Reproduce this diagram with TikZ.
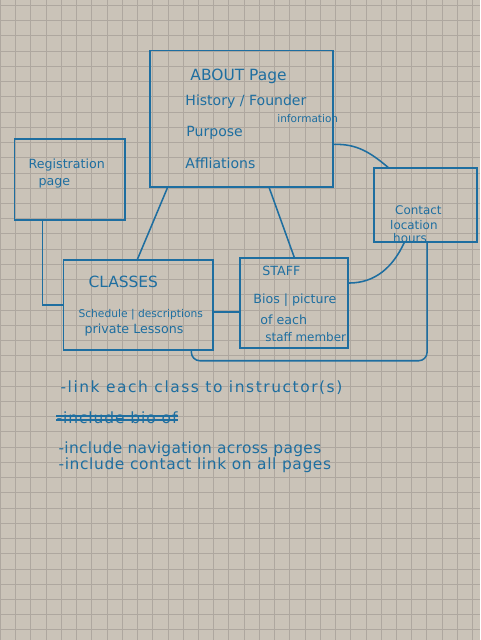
\documentclass[tikz,border=0pt]{standalone}
\usepackage{fontspec}
\setmainfont{DejaVu Sans}
\usetikzlibrary{positioning, calc}
\definecolor{ink}{RGB}{30,110,160}
\definecolor{paper}{RGB}{202,195,184}
\definecolor{gridline}{RGB}{174,167,159}

\begin{document}
\begin{tikzpicture}[
      x=0.025cm, y=-0.025cm,
      box/.style={rectangle, draw=ink, line width=1.1pt, inner sep=0pt},
      link/.style={draw=ink, line width=1.1pt},
      hand/.style={text=ink, anchor=west, inner sep=0pt, font=\fontsize{10}{12}\selectfont},
      note/.style={hand, font=\fontsize{11}{13}\selectfont\addfontfeatures{LetterSpace=#1}},
      note/.default=0
    ]
    % graph paper
    \fill[paper] (0,0) rectangle (480,640);
    \foreach \i in {0,...,31} \draw[gridline, line width=0.55pt] (\i*15.25,0) -- (\i*15.25,640);
    \foreach \j in {0,...,41} \draw[gridline, line width=0.55pt] (0,5+\j*15.25) -- (480,5+\j*15.25);
    \useasboundingbox (0,0) rectangle (480,640);

    % pages
    \node[box, minimum width=4.575cm, minimum height=3.425cm] (about) at (241.5,118.5) {};
    \node[box, minimum width=2.775cm, minimum height=2.025cm] (regpage) at (69.5,179.5) {};
    \node[box, minimum width=2.575cm, minimum height=1.85cm] (contact) at (425.5,205) {};
    \node[box, minimum width=3.75cm, minimum height=2.25cm] (classes) at (138,305) {};
    \node[box, minimum width=2.7cm, minimum height=2.25cm] (staff) at (294,303) {};

    % page contents
    \node[hand, font=\fontsize{11}{13}\selectfont] (abouttitle) at (190,76) {ABOUT Page};
    \node[hand] (history) at (185,101) {History / Founder};
    \node[hand, font=\fontsize{7.5}{9}\selectfont] (info) at (277,118) {information};
    \node[hand] (purpose) at (186,133) {Purpose};
    \node[hand] (affil) at (185,163) {Affliations};

    \node[hand, font=\fontsize{9}{11}\selectfont] (regtitle) at (28,165) {Registration};
    \node[hand, font=\fontsize{9}{11}\selectfont] (regsub) at (38,183) {page};

    \node[hand, font=\fontsize{8.5}{10}\selectfont] (contact1) at (395,210) {Contact};
    \node[hand, font=\fontsize{8.5}{10}\selectfont] (contact2) at (390,225) {location};
    \node[hand, font=\fontsize{8.5}{10}\selectfont] (contact3) at (393,238) {hours};

    \node[hand, font=\fontsize{11}{13}\selectfont] (classtitle) at (88,282) {CLASSES};
    \node[hand, font=\fontsize{7.6}{9}\selectfont] (class1) at (78,315) {Schedule | descriptions};
    \node[hand, font=\fontsize{9}{11}\selectfont] (class2) at (84,330) {private Lessons};

    \node[hand, font=\fontsize{9}{11}\selectfont] (stafftitle) at (262,271) {STAFF};
    \node[hand, font=\fontsize{9}{11}\selectfont] (staff1) at (253,300) {Bios | picture};
    \node[hand, font=\fontsize{9}{11}\selectfont] (staff2) at (260,320) {of each};
    \node[hand, font=\fontsize{8.5}{10}\selectfont] (staff3) at (265,337) {staff member};

    % links between pages
    \draw[link] ($(about.south west)+(18,0)$) -- ($(classes.north west)+(75,0)$);
    \draw[link] ($(about.south west)+(120,0)$) -- ($(staff.north west)+(55,0)$);
    \draw[link] ($(about.north east)+(0,95)$) to[out=2, in=140] ($(contact.north west)+(15,0)$);
    \draw[link] ($(regpage.south west)+(29,0)$) |- (classes.west);
    \draw[link] ($(classes.east)+(0,7)$) -- ($(staff.west)+(0,9)$);
    \draw[link] ($(staff.east)+(0,-20)$) to[out=0, in=-115] ($(contact.south west)+(31,0)$);
    \draw[link, rounded corners=6] ($(classes.south west)+(129,0)$) |- ($(contact.south west)+(54,118)$) -- ($(contact.south west)+(54,0)$);

    % notes
    \node[note=10] (note1) at (60,388) {-link each class to instructor(s)};
    \node[note=6] (struck) at (56,418) {-include bio of};
    \draw[ink, line width=1.5pt] ($(struck.west)+(0,-2)$) -- ($(struck.east)+(0,-2)$);
    \draw[ink, line width=1.5pt] ($(struck.west)+(0,2)$) -- ($(struck.east)+(0,2)$);
    \node[note=2] (note3) at (58,449) {-include navigation across pages};
    \node[note=4] (note4) at (58,465) {-include contact link on all pages};
  \end{tikzpicture}
\end{document}
